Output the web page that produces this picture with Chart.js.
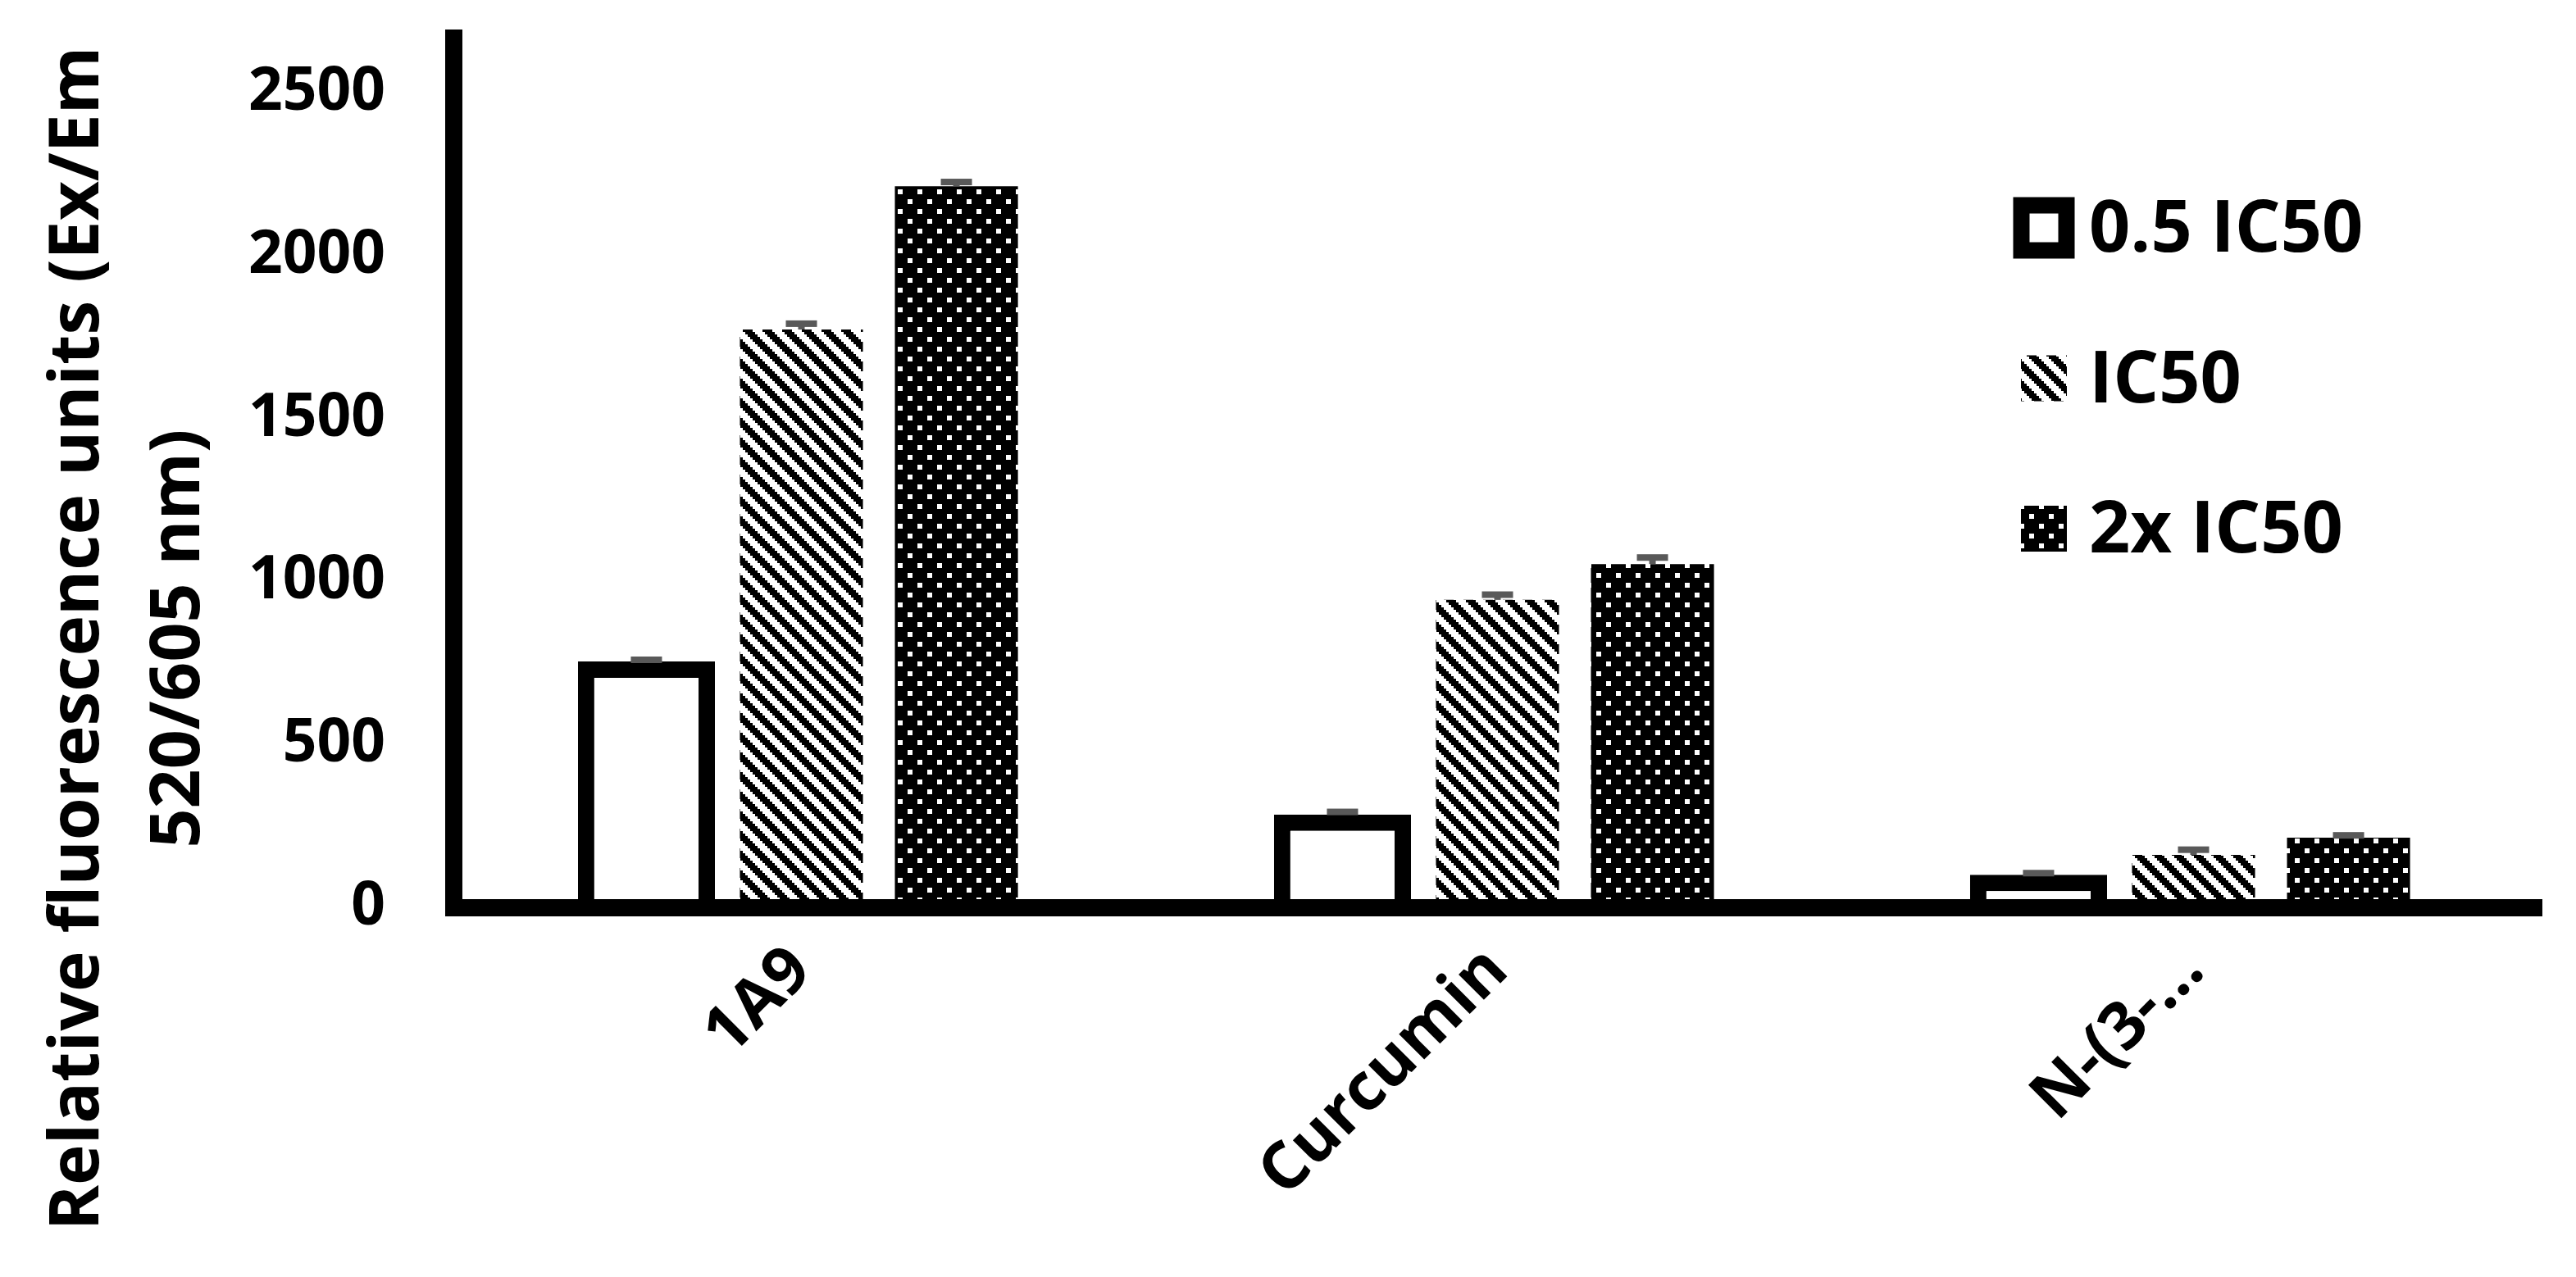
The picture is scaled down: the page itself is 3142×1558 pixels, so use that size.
<!DOCTYPE html>
<html>
<head>
<meta charset="utf-8">
<script src="https://cdn.jsdelivr.net/npm/chart.js@4.4.1/dist/chart.umd.min.js"></script>
<style>
  html, body { margin: 0; padding: 0; background: #fff; }
  #wrap { width: 3142px; height: 1558px; }
</style>
</head>
<body>
<div id="wrap"><canvas id="fluoChart"></canvas></div>
<script>
const groups = ['1A9', 'Curcumin', 'N-(3-...'];
const seriesNames = ['0.5 IC50', 'IC50', '2x IC50'];
const halfIC50 = [755, 285, 100];
const fullIC50 = [1774, 944, 161];
const doubleIC50 = [2214, 1054, 214];
const halfErr = [5, 8, 5];
const fullErr = [18, 16, 16];
const doubleErr = [13, 20, 7];
const yTicks = [0, 500, 1000, 1500, 2000, 2500];
const yTitle = ['Relative fluorescence units (Ex/Em', '520/605 nm)'];

const ctx = document.getElementById('fluoChart').getContext('2d');

// 8x8 fill patterns, 3px per cell like the old Excel ones
function makePattern(draw) {
    const c = document.createElement('canvas');
    c.width = 24;
    c.height = 24;
    draw(c.getContext('2d'));
    return ctx.createPattern(c, 'repeat');
}

const hatch = makePattern(g => {
    g.fillStyle = '#fff';
    g.fillRect(0, 0, 24, 24);
    g.fillStyle = '#000';
    for (let r = 0; r < 8; r++) {
        for (let k = 0; k < 4; k++) {
            g.fillRect(((r + k) % 8) * 3, r * 3, 3, 3);
        }
    }
});

const dots = makePattern(g => {
    g.fillStyle = '#000';
    g.fillRect(0, 0, 24, 24);
    g.fillStyle = '#fff';
    g.fillRect(3, 3, 6, 6);
    g.fillRect(15, 15, 6, 6);
});

const FONT = '"Open Sans", "DejaVu Sans", sans-serif';

const errorBars = {
    id: 'errorBars',
    afterDatasetsDraw(chart) {
        const c = chart.ctx;
        const y = chart.scales.y;
        c.save();
        c.fillStyle = '#595959';
        chart.data.datasets.forEach((ds, i) => {
            chart.getDatasetMeta(i).data.forEach((bar, j) => {
                const top = y.getPixelForValue(ds.data[j] + ds.errors[j]);
                c.fillRect(bar.x - 4, top, 8, Math.max(bar.y - top, 0));
                c.fillRect(bar.x - 19, top - 4, 38, 8);
            });
        });
        c.restore();
    }
};

const legendAndTitle = {
    id: 'legendAndTitle',
    afterDraw(chart) {
        const c = chart.ctx;
        c.save();
        // legend, top right inside the plot
        c.font = 'bold 88px ' + FONT;
        c.textBaseline = 'alphabetic';
        chart.data.datasets.forEach((ds, i) => {
            const cx = 2493, cy = 278 + i * 183.5;
            if (ds.borderWidth) {
                c.fillStyle = '#000';
                c.fillRect(cx - 37.5, cy - 37.5, 75, 75);
                c.fillStyle = ds.backgroundColor;
                c.fillRect(cx - 17.5, cy - 17.5, 35, 35);
            } else {
                c.fillStyle = ds.backgroundColor;
                c.fillRect(cx - 28, cy - 28, 56, 56);
            }
            c.fillStyle = '#000';
            c.fillText(ds.label, 2548, cy + 29);
        });
        // y axis title, two lines, centred on the page height
        c.font = 'bold 84px ' + FONT;
        c.textAlign = 'center';
        [120, 243].forEach((x, i) => {
            c.save();
            c.translate(x, 779);
            c.rotate(-Math.PI / 2);
            c.fillText(yTitle[i], 0, 0);
            c.restore();
        });
        c.restore();
    }
};

const fluoChart = new Chart(ctx, {
    type: 'bar',
    data: {
        labels: groups,
        datasets: [{
            label: seriesNames[0],
            data: halfIC50,
            errors: halfErr,
            backgroundColor: '#fff',
            borderColor: '#000',
            borderWidth: 20,
            barPercentage: 0.884
        }, {
            label: seriesNames[1],
            data: fullIC50,
            errors: fullErr,
            backgroundColor: hatch,
            borderWidth: 0,
            barPercentage: 0.794
        }, {
            label: seriesNames[2],
            data: doubleIC50,
            errors: doubleErr,
            backgroundColor: dots,
            borderWidth: 0,
            barPercentage: 0.794
        }]
    },
    options: {
        responsive: true,
        maintainAspectRatio: false,
        animation: false,
        devicePixelRatio: 1,
        layout: { padding: { left: 260, right: 42, top: 46, bottom: 0 } },
        datasets: { bar: { categoryPercentage: 0.668 } },
        plugins: {
            legend: { display: false },
            tooltip: { enabled: false }
        },
        scales: {
            x: {
                grid: { display: false, drawTicks: false },
                border: { display: true, color: '#000', width: 21, z: 1 },
                ticks: {
                    color: '#000',
                    font: { family: FONT, weight: 'bold', size: 80 },
                    maxRotation: 45,
                    minRotation: 45,
                    autoSkip: false,
                    padding: 30
                },
                afterFit(s) {
                    s.height = 451;
                    s.paddingLeft = 0;
                    s.paddingRight = 0;
                }
            },
            y: {
                min: 0,
                max: 2670,
                grid: { display: false, drawTicks: false },
                border: { display: true, color: '#000', width: 21, z: 1 },
                ticks: {
                    color: '#000',
                    font: { family: FONT, weight: 'bold', size: 73 },
                    padding: 83,
                    callback: v => String(v)
                },
                afterBuildTicks(s) {
                    s.ticks = yTicks.map(v => ({ value: v }));
                },
                afterFit(s) {
                    s.width = 293;
                    s.paddingTop = 0;
                    s.paddingBottom = 0;
                }
            }
        }
    },
    plugins: [errorBars, legendAndTitle]
});
</script>
</body>
</html>
